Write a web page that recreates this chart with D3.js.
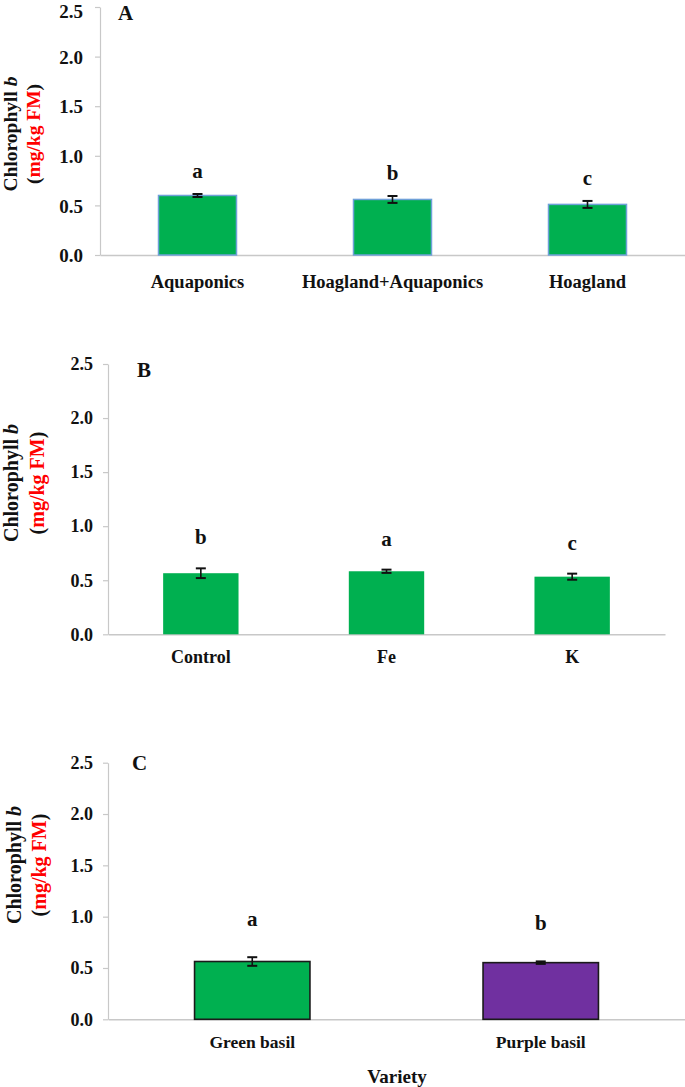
<!DOCTYPE html>
<html>
<head>
<meta charset="utf-8">
<script src="https://cdn.jsdelivr.net/npm/d3@7/dist/d3.min.js"></script>
<style>
  html, body { margin: 0; padding: 0; background: #fff; }
  svg { display: block; }
  text { font-family: "Liberation Serif", "Times New Roman", serif; font-weight: bold; }
</style>
</head>
<body>
<svg id="chart" width="685" height="1087"></svg>
<script>
// ---------- data ----------
const yTicks = [0, 0.5, 1.0, 1.5, 2.0, 2.5];

const catsA = ["Aquaponics", "Hoagland+Aquaponics", "Hoagland"];
const valsA = [0.60, 0.56, 0.51];
const errA  = [0.015, 0.035, 0.035];
const letA  = ["a", "b", "c"];

const catsB = ["Control", "Fe", "K"];
const valsB = [0.565, 0.583, 0.533];
const errB  = [0.045, 0.015, 0.028];
const letB  = ["b", "a", "c"];

const catsC = ["Green basil", "Purple basil"];
const valsC = [0.563, 0.552];
const errC  = [0.042, 0.012];
const letC  = ["a", "b"];

const panelLabels = ["A", "B", "C"];
const xTitleC = "Variety";

// ---------- drawing ----------
const svg = d3.select("#chart");
const GREEN = "#00b050", PURPLE = "#7030a0", AXIS = "#c8c8c8";

function panel(o) {
  const g = svg.append("g");
  const y = d3.scaleLinear().domain([0, 2.5]).range([o.y0, o.yTop]);
  const x = d3.scaleBand().domain(o.cats).range([o.xL, o.xR]).padding(0);
  const bw = x.bandwidth() * o.barFrac;

  // y axis
  const yAxis = d3.axisLeft(y).tickValues(yTicks).tickFormat(d3.format(".1f"))
    .tickSizeOuter(0).tickSizeInner(5).tickPadding(o.tickPad);
  const ya = g.append("g").attr("transform", `translate(${o.xL},0)`).call(yAxis);
  ya.select(".domain").attr("stroke", AXIS).attr("stroke-width", 1.2);
  ya.selectAll(".tick line").attr("stroke", AXIS).attr("stroke-width", 1.2);
  ya.selectAll(".tick text").attr("fill", "#111").style("font-size", o.tickFont + "px")
    .attr("dy", (d) => (o.topDy && d === 2.5) ? o.topDy : o.tickDy)
    .style("font-family", "Liberation Serif").style("font-weight", "bold");

  // x axis
  const xAxis = d3.axisBottom(x).tickSize(0).tickPadding(o.xLabPad);
  const xa = g.append("g").attr("transform", `translate(0,${o.y0})`).call(xAxis);
  xa.select(".domain").attr("stroke", AXIS).attr("stroke-width", 1.5);
  xa.selectAll(".tick text").attr("fill", "#111").style("font-size", o.xFont + "px")
    .style("font-family", "Liberation Serif").style("font-weight", "bold");

  // bars
  g.selectAll("rect.bar").data(o.cats).enter().append("rect")
    .attr("class", "bar")
    .attr("x", d => x(d) + (x.bandwidth() - bw) / 2)
    .attr("width", bw)
    .attr("y", (d, i) => y(o.vals[i]))
    .attr("height", (d, i) => y(0) - y(o.vals[i]))
    .attr("fill", (d, i) => o.fills[i])
    .attr("stroke", o.stroke)
    .attr("stroke-width", o.strokeW);

  // error bars
  const cap = 5;
  o.cats.forEach((c, i) => {
    const cx = x(c) + x.bandwidth() / 2;
    const t = y(o.vals[i] + o.errs[i]), b = y(o.vals[i] - o.errs[i]);
    g.append("line").attr("x1", cx).attr("x2", cx).attr("y1", t).attr("y2", b)
      .attr("stroke", "#111").attr("stroke-width", 1.6);
    [t, b].forEach(v => g.append("line").attr("x1", cx - cap).attr("x2", cx + cap)
      .attr("y1", v).attr("y2", v).attr("stroke", "#111").attr("stroke-width", 2));
    g.append("text").attr("x", cx).attr("y", t - o.letOff)
      .attr("text-anchor", "middle").attr("dominant-baseline", "central")
      .style("font-size", "21px").attr("fill", "#111").text(o.lets[i]);
  });

  // panel letter
  g.append("text").attr("x", o.pX).attr("y", o.pY).style("font-size", "21px")
    .attr("fill", "#111").text(o.pLabel);

  // y title
  const yc = o.titleY;
  const t1 = g.append("text").attr("transform", `translate(${o.t1x},${yc}) rotate(-90)`)
    .attr("text-anchor", "middle").style("font-size", o.tFont + "px").attr("fill", "#111");
  t1.append("tspan").text("Chlorophyll ");
  t1.append("tspan").style("font-style", "italic").text("b");
  const t2 = g.append("text").attr("transform", `translate(${o.t2x},${yc}) rotate(-90)`)
    .attr("text-anchor", "middle").style("font-size", o.tFont + "px").attr("fill", "#111");
  t2.append("tspan").text("(");
  t2.append("tspan").attr("fill", "#ff0000").text("mg/kg FM");
  t2.append("tspan").text(")");
  return { x, y, g };
}

panel({
  cats: catsA, vals: valsA, errs: errA, lets: letA, pLabel: panelLabels[0],
  y0: 255, yTop: 7, xL: 100, xR: 685, barFrac: 0.40,
  fills: [GREEN, GREEN, GREEN], stroke: "#6fa0d8", strokeW: 1.5,
  tickFont: 19, tickPad: 12, tickDy: "0.35em", topDy: "0.55em", xFont: 18.5, xLabPad: 20, letOff: 23,
  pX: 118, pY: 20, titleY: 134, t1x: 17, t2x: 40, tFont: 19.5
});

panel({
  cats: catsB, vals: valsB, errs: errB, lets: letB, pLabel: panelLabels[1],
  y0: 634.3, yTop: 364, xL: 108, xR: 665, barFrac: 0.406,
  fills: [GREEN, GREEN, GREEN], stroke: "none", strokeW: 0,
  tickFont: 18, tickPad: 10, tickDy: "0.32em", xFont: 18, xLabPad: 16, letOff: 31,
  pX: 137, pY: 377, titleY: 483, t1x: 18, t2x: 44, tFont: 20
});

panel({
  cats: catsC, vals: valsC, errs: errC, lets: letC, pLabel: panelLabels[2],
  y0: 1019.3, yTop: 762.7, xL: 108, xR: 685, barFrac: 0.40,
  fills: [GREEN, PURPLE], stroke: "#1a1a1a", strokeW: 1.6,
  tickFont: 18, tickPad: 10, tickDy: "0.32em", xFont: 17.5, xLabPad: 16, letOff: 38,
  pX: 132, pY: 770, titleY: 865, t1x: 21, t2x: 46, tFont: 20
});

svg.append("text").attr("x", 397).attr("y", 1083).attr("text-anchor", "middle")
  .style("font-size", "19px").attr("fill", "#111").text(xTitleC);
</script>
</body>
</html>
